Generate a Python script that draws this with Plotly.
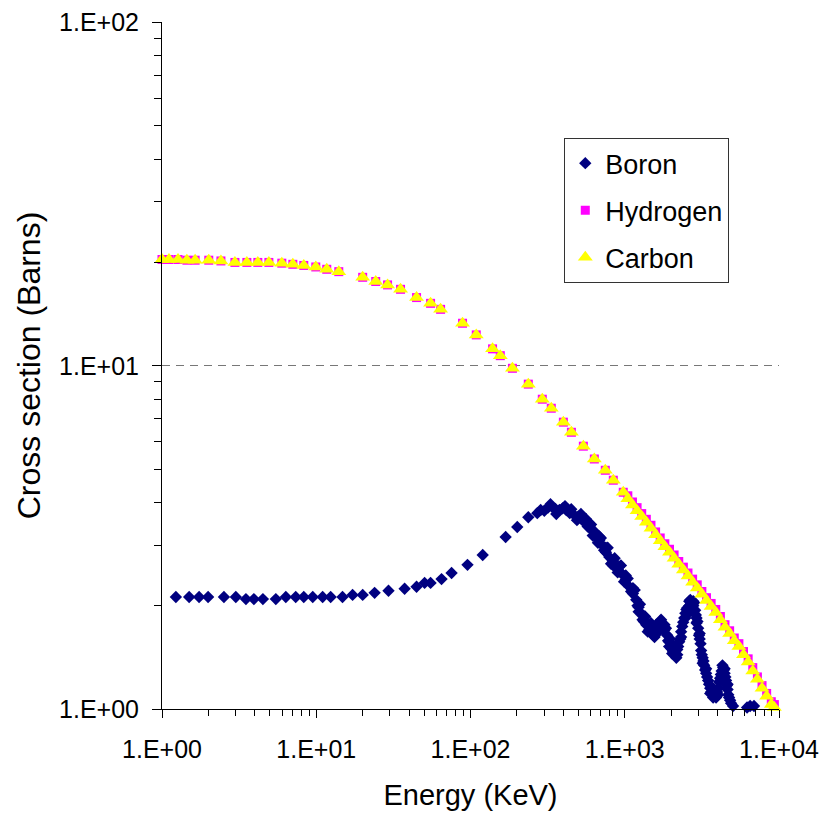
import plotly.graph_objects as go

# ---------------- data ----------------
boron_E = [1.23, 1.50, 1.74, 1.99, 2.52, 3.01, 3.50, 3.94, 4.51, 5.47, 6.35, 7.36, 8.30, 9.49,
           11.0, 12.4, 14.8, 17.2, 20.0, 23.9, 29.4, 37.4, 44.7, 50.4, 55.1, 64.9, 75.4, 95.6,
           120, 169, 201, 237, 271, 285, 301, 318, 340, 355, 377, 395, 418, 440, 471, 500, 531,
           560, 560, 589, 620, 620, 654, 684, 684, 715, 755, 755, 794, 840, 840, 881, 920, 920,
           964, 1015, 1015, 1071, 1130, 1130, 1187, 1230, 1230, 1279, 1330, 1330, 1378, 1440,
           1440, 1507, 1560, 1560, 1624, 1690, 1690, 1750, 1810, 1810, 1885, 1940, 1940, 2000,
           2060, 2060, 2124, 2190, 2190, 2254, 2320, 2320, 2393, 2470, 2470, 2541, 2620, 2620,
           2694, 2780, 2780, 2860, 2920, 2920, 2992, 3060, 3060, 3128, 3200, 3200, 3272, 3370,
           3370, 3470, 3580, 3580, 3683, 3800, 3800, 3909, 4030, 4030, 4150, 4250, 4250, 4345,
           4440, 4440, 4539, 4640, 4640, 4747, 4890, 5038, 6208, 6500, 6887,
           330, 360, 410, 450, 490, 520, 575, 605, 640, 670, 700, 735, 775, 815, 860, 900, 945,
           990, 1045, 1100, 1160, 1210, 1255, 1305, 1355, 1410, 1475, 1530, 1600, 1660, 1720,
           1780, 1850, 1910, 1970, 2030, 2100, 2160, 2220, 2290, 2360, 2430, 2510, 2580, 2660,
           2740, 2820, 2890, 2960, 3030, 3100, 3160, 3240, 3320, 3420, 3520, 3630, 3740, 3850,
           3970, 4090, 4200, 4300, 4390, 4490, 4590, 4690, 4820]
boron_S = [2.12, 2.12, 2.12, 2.12, 2.12, 2.12, 2.09, 2.09, 2.09, 2.09, 2.12, 2.12, 2.12, 2.12,
           2.12, 2.12, 2.12, 2.15, 2.15, 2.18, 2.21, 2.24, 2.27, 2.33, 2.33, 2.39, 2.49, 2.63,
           2.81, 3.17, 3.39, 3.62, 3.72, 3.80, 3.78, 3.86, 3.87, 3.83, 3.80, 3.84, 3.80, 3.72,
           3.67, 3.64, 3.55, 3.48, 3.58, 3.39, 3.30, 3.20, 3.17, 3.10, 3.18, 3.00, 2.86, 2.95,
           2.77, 2.70, 2.62, 2.59, 2.52, 2.60, 2.47, 2.38, 2.45, 2.27, 2.17, 2.25, 2.08, 1.98,
           1.92, 1.90, 1.80, 1.86, 1.76, 1.70, 1.76, 1.70, 1.66, 1.62, 1.73, 1.76, 1.80, 1.77,
           1.70, 1.76, 1.64, 1.57, 1.52, 1.50, 1.47, 1.52, 1.44, 1.49, 1.44, 1.57, 1.68, 1.62,
           1.79, 1.90, 1.84, 1.97, 2.00, 2.06, 2.03, 2.00, 2.06, 1.94, 1.84, 1.78, 1.72, 1.60,
           1.66, 1.48, 1.41, 1.36, 1.34, 1.27, 1.31, 1.21, 1.15, 1.11, 1.12, 1.10, 1.14, 1.08,
           1.15, 1.10, 1.23, 1.29, 1.24, 1.32, 1.27, 1.31, 1.21, 1.14, 1.18, 1.08, 1.04, 1.02,
           1.01, 1.02, 1.02,
           3.95, 3.70, 3.90, 3.82, 3.55, 3.70, 3.40, 3.45, 3.28, 3.05, 3.15, 2.90, 2.95, 2.65,
           2.75, 2.50, 2.62, 2.35, 2.40, 2.20, 2.22, 2.00, 2.02, 1.82, 1.86, 1.68, 1.78, 1.64,
           1.76, 1.68, 1.82, 1.70, 1.72, 1.58, 1.60, 1.45, 1.50, 1.41, 1.52, 1.60, 1.74, 1.84,
           1.95, 1.90, 2.08, 1.97, 2.04, 1.88, 1.80, 1.64, 1.55, 1.44, 1.38, 1.30, 1.24, 1.18,
           1.12, 1.08, 1.12, 1.12, 1.20, 1.26, 1.34, 1.30, 1.24, 1.17, 1.10, 1.06]

hydrogen_E = [1.0, 1.11, 1.27, 1.45, 1.64, 2.01, 2.41, 2.97, 3.55, 4.18, 4.93, 5.98, 7.05, 8.30,
              9.93, 11.7, 14.0, 20.0, 24.3, 29.0, 35.2, 44.7, 55.1, 64.0, 88.8, 109, 139, 156,
              187, 237, 292, 334, 400, 451, 539, 635, 748, 843, 978,
              1047, 1122, 1202, 1288, 1380, 1479, 1585, 1698, 1820, 1950, 2089, 2239, 2399,
              2570, 2754, 2951, 3162, 3388, 3631, 3890, 4169, 4467, 4786, 5129, 5495, 5888,
              6310, 6761, 7244, 7762, 8318, 8913, 9333]
hydrogen_S = [20.4, 20.4, 20.4, 20.3, 20.3, 20.3, 20.2, 20.0, 20.0, 20.0, 20.0, 19.9, 19.75,
              19.6, 19.4, 19.1, 18.8, 18.1, 17.6, 17.2, 16.7, 15.8, 15.2, 14.6, 13.3, 12.3,
              11.2, 10.7, 9.83, 8.84, 7.99, 7.52, 6.85, 6.40, 5.83, 5.35, 4.96, 4.64, 4.28,
              4.18, 4.01, 3.86, 3.71, 3.57, 3.43, 3.28, 3.15, 3.03, 2.92, 2.81, 2.69, 2.59,
              2.49, 2.39, 2.30, 2.20, 2.11, 2.03, 1.95, 1.86, 1.76, 1.69, 1.61, 1.55, 1.47,
              1.40, 1.32, 1.24, 1.17, 1.11, 1.05, 1.03]

carbon_E = [1.0, 1.11, 1.27, 1.45, 1.64, 2.01, 2.41, 2.97, 3.55, 4.18, 4.93, 5.98, 7.05, 8.30,
            9.93, 11.7, 14.0, 20.0, 24.3, 29.0, 35.2, 44.7, 55.1, 64.0, 88.8, 109, 139, 156,
            187, 237, 292, 334, 400, 451, 539, 635, 748, 843, 978,
            1047, 1122, 1202, 1288, 1380, 1479, 1585, 1698, 1820, 1950, 2089, 2239, 2399,
            2570, 2754, 2951, 3162, 3388, 3631, 3890, 4169, 4467, 4786, 5129, 5495, 5888,
            6310, 6761, 7244, 7762, 8318, 8913, 9333]
carbon_S = [20.4, 20.4, 20.4, 20.3, 20.3, 20.3, 20.2, 20.0, 20.0, 20.0, 20.0, 19.9, 19.75,
            19.6, 19.4, 19.1, 18.8, 18.1, 17.6, 17.2, 16.7, 15.8, 15.2, 14.6, 13.3, 12.3,
            11.2, 10.7, 9.83, 8.84, 7.99, 7.52, 6.85, 6.40, 5.83, 5.35, 4.96, 4.64, 4.28,
            4.10, 3.93, 3.78, 3.64, 3.50, 3.36, 3.22, 3.09, 2.97, 2.86, 2.75, 2.64, 2.54,
            2.44, 2.34, 2.25, 2.16, 2.07, 1.99, 1.91, 1.82, 1.73, 1.66, 1.58, 1.52, 1.44,
            1.37, 1.29, 1.22, 1.15, 1.09, 1.03, 1.01]

x_label_alias = {"1": "1.E+00", "10": "1.E+01", "100": "1.E+02", "1000": "1.E+03",
                 "10000": "1.E+04", "10,000": "1.E+04", "10k": "1.E+04"}
y_label_alias = {"1": "1.E+00", "10": "1.E+01", "100": "1.E+02"}

# minor tick positions (2..9 in every decade)
x_minor_ticks = [m * 10 ** d for d in range(4) for m in range(2, 10)]
y_minor_ticks = [m * 10 ** d for d in range(2) for m in range(2, 10)]

X_RANGE = [0, 4]
Y_RANGE = [0, 2.0015]
FONT = "Liberation Sans, Arial, sans-serif"

fig = go.Figure()
fig.add_trace(go.Scatter(x=boron_E, y=boron_S, mode="markers", name="Boron",
                         legendgroup="b", cliponaxis=False,
                         marker=dict(symbol="diamond", size=9.5, color="#000080",
                                     line=dict(width=0))))
fig.add_trace(go.Scatter(x=hydrogen_E, y=hydrogen_S, mode="markers", name="Hydrogen",
                         legendgroup="h", cliponaxis=False,
                         marker=dict(symbol="square", size=9, color="#FF00FF",
                                     line=dict(width=0))))
fig.add_trace(go.Scatter(x=carbon_E, y=carbon_S, mode="markers", name="Carbon",
                         legendgroup="c", cliponaxis=False,
                         marker=dict(symbol="triangle-up", size=13, color="#FFFF00",
                                     line=dict(width=0))))
# invisible copy of one carbon point so the minor-tick overlay axes get drawn
fig.add_trace(go.Scatter(x=carbon_E[:1], y=carbon_S[:1], xaxis="x2", yaxis="y2",
                         mode="markers", marker=dict(opacity=0, size=1),
                         showlegend=False, hoverinfo="skip"))

fig.update_layout(
    width=823, height=814,
    margin=dict(l=162, r=44, t=22, b=105, autoexpand=False),
    paper_bgcolor="white", plot_bgcolor="white",
    font=dict(family=FONT, color="black", size=24),
    showlegend=True,
    legend=dict(x=0.652, y=0.831, xanchor="left", yanchor="top",
                bgcolor="white", bordercolor="#333333", borderwidth=1,
                font=dict(family=FONT, size=27, color="black"),
                tracegroupgap=9, traceorder="grouped"),
    xaxis=dict(type="log", range=X_RANGE, showgrid=False, zeroline=False,
               showline=True, linecolor="black", linewidth=1,
               ticks="outside", ticklen=8, tickcolor="black", tickwidth=1,
               tickmode="linear", tick0=0, dtick=1, exponentformat="none",
               separatethousands=False, labelalias=x_label_alias,
               tickfont=dict(family=FONT, size=25, color="black"),
               ticklabelstandoff=10,
               title=dict(text="Energy (KeV)", font=dict(family=FONT, size=29),
                          standoff=22)),
    yaxis=dict(type="log", range=Y_RANGE, showgrid=True, gridcolor="#777777",
               griddash="8px,6px", gridwidth=1, zeroline=False,
               showline=True, linecolor="black", linewidth=1,
               ticks="outside", ticklen=9, tickcolor="black", tickwidth=1,
               tickmode="linear", tick0=0, dtick=1, exponentformat="none",
               labelalias=y_label_alias,
               tickfont=dict(family=FONT, size=25, color="black"),
               ticklabelstandoff=8,
               title=dict(text="Cross section (Barns)", font=dict(family=FONT, size=32),
                          standoff=8)),
    xaxis2=dict(type="log", range=X_RANGE, overlaying="x", anchor="y", side="bottom",
                showgrid=False, zeroline=False, showline=False,
                ticks="outside", ticklen=6, tickcolor="black", tickwidth=1,
                tickmode="array", tickvals=x_minor_ticks, showticklabels=False),
    yaxis2=dict(type="log", range=Y_RANGE, overlaying="y", anchor="x", side="left",
                showgrid=False, zeroline=False, showline=False,
                ticks="outside", ticklen=7, tickcolor="black", tickwidth=1,
                tickmode="array", tickvals=y_minor_ticks, showticklabels=False),
)

fig.write_html("out.html")
